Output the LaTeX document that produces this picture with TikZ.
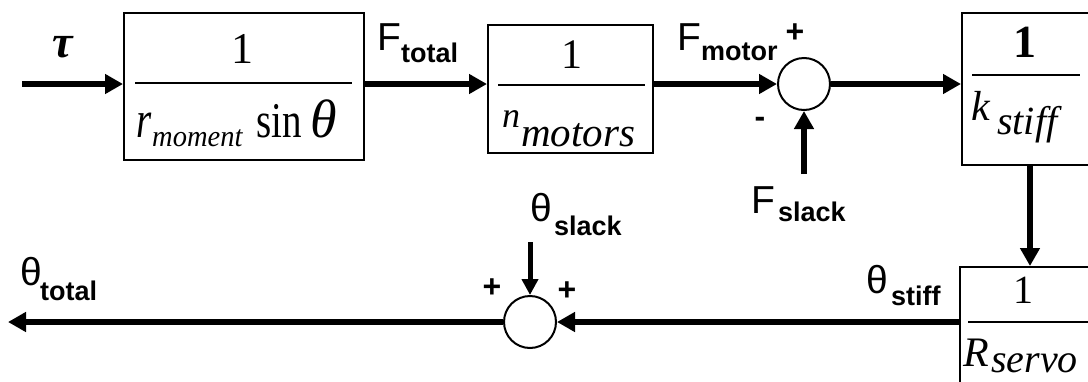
\documentclass[tikz,border=0pt]{standalone}
\usepackage{fontspec}
\usepackage{graphicx}
\setmainfont{Liberation Serif}
\newfontfamily\lsans{Liberation Sans}
\usetikzlibrary{arrows.meta}
\tikzset{
  blk/.style={draw, line width=2pt, inner sep=0pt, minimum width=160pt},
  sumj/.style={circle, draw, line width=2pt, minimum size=52pt, inner sep=0pt},
  sig/.style={line width=6pt, -{Triangle[length=18pt,width=19pt]}},
  fracl/.style={line width=1.6pt},
  txt/.style={inner sep=0pt, anchor=base west},
  lbl/.style={inner sep=0pt, anchor=base west, font=\lsans\fontsize{39}{39}\selectfont},
  sub/.style={inner sep=0pt, anchor=base west, font=\lsans\bfseries\fontsize{27}{27}\selectfont},
  sgn/.style={inner sep=0pt, font=\lsans\bfseries\fontsize{32}{32}\selectfont},
}
\begin{document}
\begin{tikzpicture}[x=1pt,y=-1pt]
\useasboundingbox (0,0) rectangle (1088,381);
\clip (0,0) rectangle (1088,381);
% blocks
\node[blk, minimum width=240pt, minimum height=147pt] (b1) at (244,86.5) {};
\node[blk, minimum width=165pt, minimum height=128pt] (b2) at (570.5,89) {};
\node[blk, minimum height=152pt] (b3) at (1042,89) {};
\node[blk, minimum height=150pt] (b4) at (1040,342) {};
% summing junctions
\node[sumj] (s1) at (804,84) {};
\node[sumj] (s2) at (530,322) {};
% free ends
\coordinate (in) at (22,84);
\coordinate (fs) at (804,174);
\coordinate (ts) at (530,242);
\coordinate (out) at (8,322);
\coordinate (dn) at (1030,0);
% fraction lines
\draw[fracl] (135,83) -- (352,83);
\draw[fracl] (498,85) -- (645,85);
\draw[fracl] (972,75) -- (1080,75);
\draw[fracl] (968,322) -- (1088,322);
% block contents
\node[txt, font=\fontsize{44}{44}\selectfont, anchor=base] (n1) at (242,63) {1};
\node[txt, font=\itshape\fontsize{52}{52}\selectfont] (d1a) at (136,137) {\scalebox{0.75}[1]{r}};
\node[txt, font=\itshape\fontsize{30}{30}\selectfont] (d1b) at (152,146) {\scalebox{0.95}[1]{moment}};
\node[txt, font=\fontsize{50}{50}\selectfont] (d1c) at (256,137) {\scalebox{0.78}[1]{sin}};
\node[txt, font=\itshape\fontsize{54}{54}\selectfont] (d1d) at (310,137) {θ};
\node[txt, font=\fontsize{42}{42}\selectfont, anchor=base] (n2) at (572,68) {1};
\node[txt, font=\itshape\fontsize{36}{36}\selectfont] (d2a) at (502,127) {n};
\node[txt, font=\itshape\fontsize{41}{41}\selectfont] (d2b) at (521,146) {motors};
\node[txt, font=\bfseries\fontsize{46}{46}\selectfont, anchor=base] (n3) at (1025,57) {1};
\node[txt, font=\itshape\fontsize{42}{42}\selectfont] (d3a) at (971,120) {k};
\node[txt, font=\itshape\fontsize{40}{40}\selectfont] (d3b) at (997,134) {stiff};
\node[txt, font=\fontsize{40}{40}\selectfont, anchor=base] (n4) at (1023,303) {1};
\node[txt, font=\itshape\fontsize{42}{42}\selectfont] (d4a) at (963,366) {R};
\node[txt, font=\itshape\fontsize{40}{40}\selectfont] (d4b) at (991,372) {servo};
% signal labels
\node[inner sep=0pt, font=\bfseries\itshape\fontsize{46}{46}\selectfont] (tau) at (63,47) {τ};
\node[lbl] (ft) at (377,50) {F};
\node[sub] (ftt) at (401,62) {total};
\node[lbl] (fm) at (677,50) {F};
\node[sub] (fmm) at (701,60) {motor};
\node[lbl] (fsl) at (751,213) {F};
\node[sub] (fsls) at (778,221) {slack};
\node[lbl] (tst) at (866,293) {θ};
\node[sub] (tsts) at (891,305) {stiff};
\node[lbl] (tsl) at (530,221) {θ};
\node[sub] (tsls) at (554,235) {slack};
\node[lbl] (tto) at (20,285) {θ};
\node[sub] (ttot) at (40,300) {total};
% signs
\node[sgn] (p1) at (795,33) {+};
\node[sgn] (m1) at (760,122) {-};
\node[sgn] (p2) at (492,288) {+};
\node[sgn] (p3) at (567,291) {+};
% connectors
\draw[sig] (in) -- (in -| b1.west);
\draw[sig] (b1.east |- s1) -- (b2.west |- s1);
\draw[sig] (b2.east |- s1) -- (s1.west);
\draw[sig] (s1.east) -- (b3.west |- s1);
\draw[sig] (fs) -- (s1.south);
\draw[sig] (b3.south -| dn) -- (b4.north -| dn);
\draw[sig] (b4.west |- s2) -- (s2.east);
\draw[sig] (s2.west) -- (out);
\draw[line width=5pt, -{Triangle[length=16pt,width=16pt]}] (ts) -- (s2.north);
\end{tikzpicture}
\end{document}
